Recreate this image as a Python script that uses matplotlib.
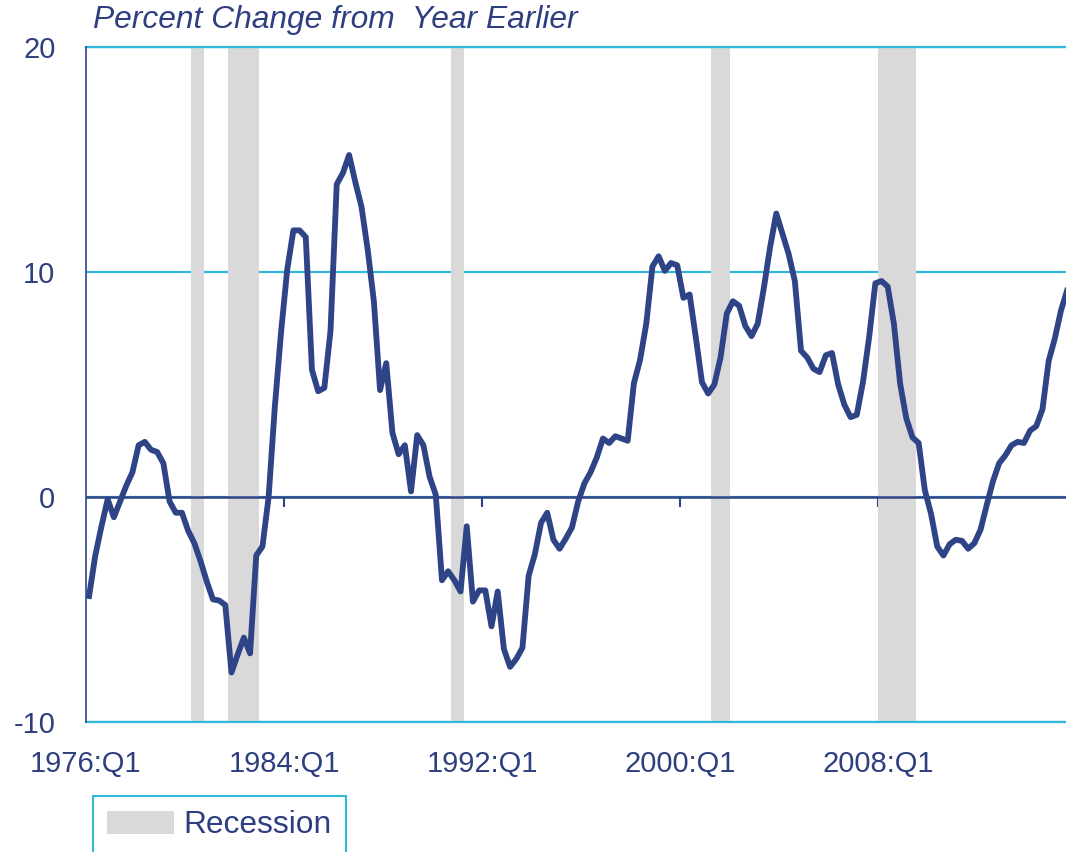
import matplotlib
matplotlib.use("Agg")
import matplotlib.pyplot as plt
from matplotlib.patches import Patch


plt.rcParams['font.family'] = ['Liberation Sans', 'DejaVu Sans']
plt.rcParams['axes.unicode_minus'] = False

NAVY = '#2F4486'
TEXT = '#2E3F80'
CYAN = '#30B9DA'
GREY = '#D9D9D9'

# quarterly series, first value is 1976:Q1
start_year = 1976
pct_change = [
    -4.4, -2.6, -1.3, -0.1, -0.9, -0.2, 0.5, 1.1, 2.3, 2.45,
    2.1, 2.0, 1.5, -0.2, -0.7, -0.7, -1.5, -2.05, -2.85, -3.75,
    -4.55, -4.6, -4.8, -7.8, -7.0, -6.25, -6.95, -2.6, -2.2, 0.0,
    4.0, 7.3, 10.1, 11.85, 11.85, 11.55, 5.65, 4.7, 4.85, 7.4,
    13.9, 14.4, 15.2, 14.0, 12.9, 11.0, 8.7, 4.75, 5.95, 2.85,
    1.9, 2.3, 0.25, 2.75, 2.3, 0.9, 0.1, -3.7, -3.3, -3.7,
    -4.2, -1.3, -4.65, -4.15, -4.15, -5.75, -4.2, -6.75, -7.55, -7.2,
    -6.7, -3.5, -2.55, -1.15, -0.7, -1.9, -2.3, -1.85, -1.35, -0.2,
    0.6, 1.1, 1.75, 2.6, 2.4, 2.7, 2.6, 2.5, 5.05, 6.1,
    7.7, 10.25, 10.7, 10.05, 10.4, 10.3, 8.85, 9.0, 7.1, 5.1,
    4.6, 5.0, 6.2, 8.15, 8.7, 8.5, 7.6, 7.15, 7.7, 9.3,
    11.1, 12.6, 11.7, 10.8, 9.6, 6.5, 6.2, 5.7, 5.55, 6.3,
    6.4, 5.0, 4.1, 3.55, 3.65, 5.1, 7.1, 9.5, 9.6, 9.35,
    7.7, 5.05, 3.5, 2.65, 2.4, 0.3, -0.75, -2.2, -2.6, -2.1,
    -1.9, -1.95, -2.3, -2.05, -1.45, -0.35, 0.7, 1.5, 1.85, 2.3,
    2.45, 2.4, 2.95, 3.15, 3.9, 6.05, 7.05, 8.3, 9.2,
]

tick_labels = ['1976:Q1', '1984:Q1', '1992:Q1', '2000:Q1', '2008:Q1']
y_ticks = [-10, 0, 10, 20]

recessions = [
    ('1980:Q2', '1980:Q3'),
    ('1981:Q4', '1982:Q4'),
    ('1990:Q4', '1991:Q1'),
    ('2001:Q2', '2001:Q4'),
    ('2008:Q1', '2009:Q2'),
]


def qidx(label):
    year, q = label.split(':Q')
    return (int(year) - start_year) * 4 + int(q) - 1


x = [i + 0.5 for i in range(len(pct_change))]
tick_pos = [qidx(t) for t in tick_labels]

fig = plt.figure(figsize=(10.66, 8.52), dpi=100)
ax = fig.add_axes([86 / 1066, 1 - 722 / 852, 980 / 1066, 675 / 852])

for s, e in recessions:
    ax.axvspan(qidx(s), qidx(e) + 1, color=GREY, lw=0, zorder=1)

ax.grid(axis='y', color=CYAN, lw=1.6)
ax.set_axisbelow(True)
ax.axhline(0, color=NAVY, lw=1.8, zorder=2)

ax.plot(x, pct_change, color=NAVY, lw=4.2, solid_joinstyle='round', zorder=3)

ax.set_xlim(0, 158.3)
ax.set_ylim(-10, 20)
ax.set_yticks(y_ticks)
ax.set_xticks(tick_pos)
ax.set_xticklabels(tick_labels)

ax.spines['right'].set_visible(False)
for side in ['top', 'bottom']:
    ax.spines[side].set_color(CYAN)
    ax.spines[side].set_linewidth(1.6)
ax.spines['left'].set_color(NAVY)
ax.spines['left'].set_linewidth(1.2)
ax.spines['left'].set_zorder(4)

ax.tick_params(axis='y', length=0, pad=22, labelsize=21, labelcolor=TEXT)
ax.tick_params(axis='x', length=0, pad=20, labelsize=21, labelcolor=TEXT)

# small tick marks sitting on the zero line
sec = ax.secondary_xaxis(1 / 3)
sec.set_xticks(tick_pos[1:])
sec.tick_params(axis='x', length=7, width=1.5, color=NAVY, direction='out',
                labelbottom=False, labeltop=False)
for sp in sec.spines.values():
    sp.set_visible(False)

fig.text(93 / 1066, 1 - 28 / 852, 'Percent Change from  Year Earlier',
         style='italic', fontsize=22.9, color=TEXT, va='baseline', ha='left')

leg = fig.legend(handles=[Patch(facecolor=GREY, edgecolor='none', label='Recession')],
                 loc='upper left', bbox_to_anchor=(93 / 1066, 1 - 796 / 852),
                 borderaxespad=0, frameon=True, fancybox=False, edgecolor=CYAN,
                 fontsize=22.9, handlelength=2.1, handleheight=0.75,
                 handletextpad=0.3, borderpad=0.45, labelcolor=TEXT)
leg.get_frame().set_linewidth(1.5)
leg.get_frame().set_alpha(None)

fig.savefig('out.png', dpi=100, facecolor='white')
